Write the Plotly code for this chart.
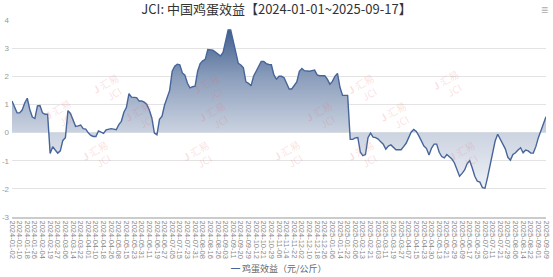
import plotly.graph_objects as go

title_text = "JCI: 中国鸡蛋效益【2024-01-01~2025-09-17】"
series_name = "鸡蛋效益（元/公斤）"

# tick labels: every 6th trading day
tick_labels = [
    "2024-01-02", "2024-01-10", "2024-01-18", "2024-01-26", "2024-02-04", "2024-02-19",
    "2024-02-27", "2024-03-06", "2024-03-14", "2024-03-22", "2024-04-01", "2024-04-10",
    "2024-04-18", "2024-04-26", "2024-05-08", "2024-05-15", "2024-05-23", "2024-05-31",
    "2024-06-11", "2024-06-19", "2024-06-27", "2024-07-05", "2024-07-15", "2024-07-23",
    "2024-07-31", "2024-08-08", "2024-08-16", "2024-08-26", "2024-09-03", "2024-09-11",
    "2024-09-20", "2024-09-29", "2024-10-12", "2024-10-21", "2024-10-29", "2024-11-06",
    "2024-11-14", "2024-11-22", "2024-12-02", "2024-12-10", "2024-12-18", "2024-12-26",
    "2025-01-06", "2025-01-14", "2025-01-22", "2025-02-06", "2025-02-13", "2025-02-21",
    "2025-03-03", "2025-03-11", "2025-03-19", "2025-03-27", "2025-04-07", "2025-04-15",
    "2025-04-23", "2025-04-30", "2025-05-13", "2025-05-21", "2025-05-29", "2025-06-09",
    "2025-06-17", "2025-06-25", "2025-07-03", "2025-07-11", "2025-07-21", "2025-07-29",
    "2025-08-06", "2025-08-14", "2025-08-22", "2025-09-01", "2025-09-09", "2025-09-17",
]
label_step = 6      # trading days between tick labels
sample_step = 2     # trading days between sampled values

# egg profit (yuan/kg), sampled every 2nd trading day
values = [
    1.12, 0.94, 0.70, 0.70, 0.80, 1.05, 1.22, 0.82, 0.55, 0.50,
    0.95, 0.96, 0.70, 0.65, 0.65, -0.74, -0.50, -0.62, -0.73, -0.65,
    -0.28, -0.18, 0.78, 0.68, 0.42, 0.22, 0.24, 0.27, 0.14, 0.12,
    -0.01, -0.10, -0.14, -0.14, 0.06, 0.02, -0.03, 0.10, 0.12, 0.14,
    0.12, 0.10, 0.28, 0.40, 0.72, 0.90, 1.38, 1.26, 1.25, 1.24,
    1.12, 1.12, 1.08, 1.00, 0.80, 0.52, -0.02, -0.08, 0.47, 0.58,
    0.98, 1.22, 1.50, 2.18, 2.36, 2.43, 2.41, 2.12, 2.04, 1.75,
    1.59, 1.63, 1.65, 2.18, 2.45, 2.55, 2.60, 2.95, 2.95, 2.93,
    2.86, 2.79, 2.72, 2.85, 3.30, 3.65, 3.65, 3.30, 2.86, 2.46,
    2.40, 2.30, 1.80, 1.75, 1.66, 2.00, 2.18, 2.35, 2.53, 2.53,
    2.45, 2.42, 2.41, 2.05, 1.90, 2.00, 2.00, 1.95, 1.72, 1.55,
    1.55, 1.70, 1.80, 2.18, 2.28, 2.20, 2.18, 2.18, 2.20, 2.22,
    2.05, 2.02, 2.02, 2.02, 1.90, 1.72, 1.82, 2.00, 2.10, 1.60,
    1.32, 1.32, 1.32, -0.24, -0.24, -0.19, -0.18, -0.70, -0.82, -0.78,
    -0.18, -0.02, -0.16, -0.18, -0.23, -0.33, -0.41, -0.59, -0.48, -0.44,
    -0.52, -0.61, -0.61, -0.61, -0.50, -0.38, -0.18, 0.02, 0.11, 0.04,
    -0.12, -0.33, -0.48, -0.57, -0.80, -0.55, -0.41, -0.41, -0.70, -0.85,
    -0.90, -0.78, -0.86, -0.94, -1.08, -1.31, -1.55, -1.45, -1.33, -1.10,
    -1.00, -1.26, -1.55, -1.73, -1.76, -1.96, -1.98, -1.60, -1.20, -0.80,
    -0.30, -0.06, -0.22, -0.43, -0.58, -0.88, -0.98, -0.78, -0.72, -0.62,
    -0.54, -0.72, -0.62, -0.65, -0.73, -0.73, -0.50, -0.18, 0.06, 0.25,
    0.56,
]

x_idx = [k * sample_step for k in range(len(values))]
tick_vals = [k * label_step for k in range(len(tick_labels))]

line_color = "#46659a"

fig = go.Figure()
fig.add_trace(go.Scatter(
    x=x_idx, y=values, mode="lines", fill="tozeroy", name=series_name,
    line=dict(color=line_color, width=1.4),
    fillgradient=dict(type="vertical", start=-2.0, stop=3.7,
                      colorscale=[[0, "#eef1f6"], [0.35, "#cbd3e1"], [0.7, "#8a9dbb"], [1, "#3f5d8c"]]),
    showlegend=False, hoverinfo="skip",
))

# watermarks
wm_pos = [
    (0.14, 0.76), (0.33, 0.76), (0.66, 0.76), (0.86, 0.78),
    (0.05, 0.52), (0.20, 0.51), (0.38, 0.51), (0.58, 0.51), (0.76, 0.51),
    (0.12, 0.20), (0.31, 0.20), (0.52, 0.20), (0.70, 0.20), (0.89, 0.20),
]
for (px, py) in wm_pos:
    fig.add_annotation(x=px, y=py, xref="paper", yref="paper", showarrow=False,
                       text="<b>J</b> 汇易<br>  JCI", textangle=-30,
                       font=dict(size=10, color="rgba(235,110,110,0.22)", family="Noto Sans CJK SC"))

# compact legend (short line marker + label)
fig.add_annotation(x=0.5, y=-0.26, xref="paper", yref="paper", showarrow=False,
                   xanchor="center", yanchor="middle",
                   text=f"<span style='color:{line_color}'>━</span> {series_name}",
                   font=dict(size=9, color="#666", family="Noto Sans CJK SC"))

fig.add_annotation(x=1.0, y=1.0, xref="paper", yref="paper", yanchor="bottom", xanchor="right",
                   showarrow=False, text="≡", yshift=1, xshift=4,
                   font=dict(size=12, color="#aaa"))

fig.update_layout(
    width=553, height=277,
    margin=dict(l=12, r=7, t=20, b=60, autoexpand=False),
    paper_bgcolor="white", plot_bgcolor="white",
    title=dict(text=title_text, x=0.5, xanchor="center", yref="container", y=1.0, yanchor="top",
               pad=dict(t=5),
               font=dict(size=13, color="#333", family="Noto Sans CJK SC")),
    font=dict(family="Liberation Sans, Arial", color="#888"),
    showlegend=False,
    xaxis=dict(range=[0, 420], tickmode="array", tickvals=tick_vals, ticktext=tick_labels,
               tickangle=90, tickfont=dict(size=7.5, color="#888"), showgrid=False,
               zeroline=False, showline=True, linecolor="#ccc", linewidth=2, ticks="",
               automargin=False, fixedrange=True),
    yaxis=dict(range=[-3, 4], tickmode="array", tickvals=[-3, -2, -1, 0, 1, 2, 3, 4],
               ticktext=["-3", "-2", "-1", "0", "1", "2", "3", "4"],
               tickfont=dict(size=8, color="#999"), showgrid=True, gridcolor="#e3e3e3",
               gridwidth=1, zeroline=False, showline=False, ticks="", ticklabelstandoff=2,
               automargin=False, fixedrange=True),
)

fig.write_html("out.html")
